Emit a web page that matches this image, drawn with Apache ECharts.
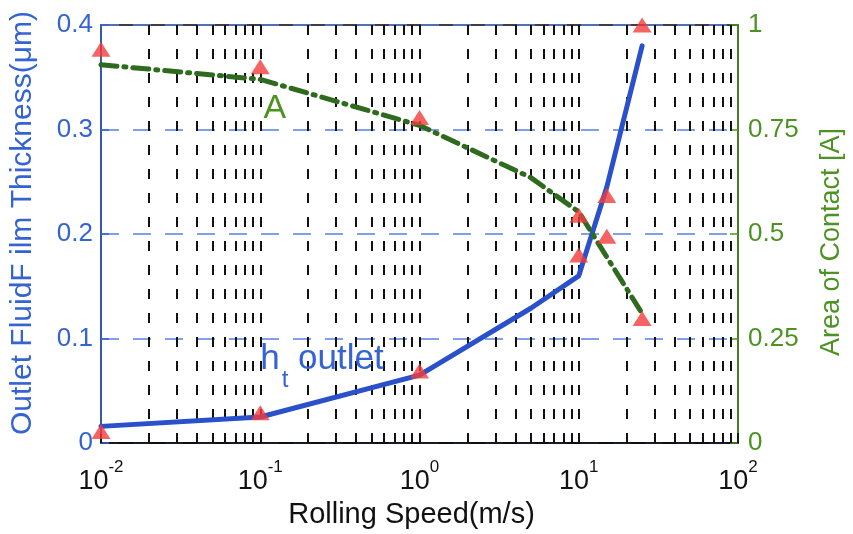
<!DOCTYPE html>
<html><head><meta charset="utf-8">
<script src="https://cdn.jsdelivr.net/npm/echarts@6/dist/echarts.min.js"></script>
<style>html,body{margin:0;padding:0;background:#fff}#chart{width:853px;height:534px}</style>
</head><body><div id="chart"></div>
<script>
// ---- data ----
const speeds   = [0.01, 0.1, 1, 5, 10, 15, 25];            // Rolling speed (m/s)
const hOutlet  = [0.016, 0.025, 0.065, 0.129, 0.16, 0.245, 0.38];  // outlet film thickness (um)
const areaA    = [0.905, 0.87, 0.76, 0.635, 0.553, 0.445, 0.31];   // area of contact A
const expSpeeds = [0.01, 0.1, 1, 10, 15, 25];
const hExp     = [0.011, 0.029, 0.069, 0.18, 0.237, 0.4];
const aExp     = [0.942, 0.9, 0.779, 0.545, 0.495, 0.298];
const xTicks   = [0.01, 0.1, 1, 10, 100];
const hTicks   = [0, 0.1, 0.2, 0.3, 0.4];
const aTicks   = [0, 0.25, 0.5, 0.75, 1];

const FONT = '"Liberation Sans", Arial, Helvetica, sans-serif';
const BLUE = '#3463d4', GREEN = '#4c9324', LINE_BLUE = '#2a50cc', LINE_GREEN = '#2e6b1e', RED = '#f23c3c';

// vertical dashed grid at every log-decade subdivision
const gridX = [];
for (let e = Math.log10(xTicks[0]); e < Math.log10(xTicks[xTicks.length-1]); e++) {
  for (let m = 1; m < 10; m++) {
    const v = +(m * Math.pow(10, e)).toPrecision(3);
    if (v > xTicks[0]) gridX.push(v);
  }
}
const hMin = hTicks[0], hMax = hTicks[hTicks.length-1];

const chart = echarts.init(document.getElementById('chart'), null, {renderer: 'canvas'});
chart.setOption({
  animation: false,
  backgroundColor: '#fff',
  textStyle: {fontFamily: FONT},
  grid: {left: 100, right: 111, top: 25, bottom: 79, show: true, borderColor: '#000', borderWidth: 1.5, backgroundColor: 'transparent'},
  xAxis: {
    type: 'log', logBase: 10, min: xTicks[0], max: xTicks[xTicks.length-1],
    axisLine: {lineStyle: {color: '#000', width: 1.5}},
    axisTick: {inside: true, length: 10, lineStyle: {color: '#000', width: 1.5}},
    splitLine: {show: false},
    axisLabel: {
      margin: 16, showMinLabel: true, showMaxLabel: true,
      formatter: v => '{b|10}{s|' + Math.round(Math.log10(v)) + '}',
      rich: {
        b: {fontSize: 27, color: '#111', fontFamily: FONT, lineHeight: 36, verticalAlign: 'bottom'},
        s: {fontSize: 17, color: '#111', fontFamily: FONT, lineHeight: 17, verticalAlign: 'top'}
      }
    },
    name: 'Rolling Speed(m/s)', nameLocation: 'middle', nameGap: 39,
    nameTextStyle: {fontSize: 29, color: '#111', fontFamily: FONT, padding: [0, 16, 0, 0]}
  },
  yAxis: [{
    type: 'value', position: 'left', min: hMin, max: hMax, interval: hTicks[1] - hTicks[0],
    axisLine: {show: true, lineStyle: {color: BLUE, width: 1.5}},
    axisTick: {show: true, inside: true, length: 8, lineStyle: {color: BLUE, width: 1.5}},
    axisLabel: {color: BLUE, fontSize: 26, margin: 8, fontFamily: FONT, formatter: v => String(+v.toFixed(2))},
    splitLine: {show: true, lineStyle: {color: '#5a80e0', width: 1.5, type: [18, 14]}},
    name: 'Outlet FluidF ilm Thickness(\u03bcm)', nameLocation: 'middle', nameRotate: 90, nameGap: 63,
    nameTextStyle: {fontSize: 30, color: BLUE, fontFamily: FONT, padding: [0, 0, 0, 22]}
  }, {
    type: 'value', position: 'right', min: aTicks[0], max: aTicks[aTicks.length-1], interval: aTicks[1] - aTicks[0],
    axisLine: {show: true, lineStyle: {color: GREEN, width: 1.5}},
    axisTick: {show: true, inside: true, length: 8, lineStyle: {color: GREEN, width: 1.5}},
    axisLabel: {color: GREEN, fontSize: 26, margin: 10, fontFamily: FONT, formatter: v => String(+v.toFixed(2))},
    splitLine: {show: false},
    name: 'Area of Contact [A]', nameLocation: 'middle', nameRotate: 90, nameGap: 80,
    nameTextStyle: {fontSize: 27, color: GREEN, fontFamily: FONT, padding: [0, 16, 0, 0]}
  }],
  series: [{
    name: 'grid', type: 'line', data: [], z: 1, silent: true,
    markLine: {
      silent: true, z: 1, symbol: ['none', 'none'], label: {show: false}, animation: false,
      lineStyle: {color: '#111', width: 2, type: [10, 14]},
      emphasis: {disabled: true},
      data: gridX.map(v => [{coord: [v, hMin]}, {coord: [v, hMax]}])
    }
  }, {
    name: 'h_t outlet', type: 'line', z: 3, symbol: 'none', silent: true,
    data: speeds.map((s, i) => [s, hOutlet[i]]),
    lineStyle: {color: LINE_BLUE, width: 5, cap: 'round', join: 'round'},
    markPoint: {
      symbol: 'circle', symbolSize: 0, silent: true, z: 6,
      data: [{coord: [0.1, 0.097],
        label: {show: true, position: [0, 0], align: 'left', verticalAlign: 'top',
          formatter: '{h|h}{t|t}{o| outlet}',
          rich: {
            h: {fontSize: 35, color: BLUE, fontFamily: FONT, lineHeight: 35, verticalAlign: 'top'},
            t: {fontSize: 24, color: BLUE, fontFamily: FONT, lineHeight: 24, verticalAlign: 'top', padding: [27, 0, 0, 2]},
            o: {fontSize: 35, color: BLUE, fontFamily: FONT, lineHeight: 35, verticalAlign: 'top'}
          }}}]
    }
  }, {
    name: 'A', type: 'line', yAxisIndex: 1, z: 3, symbol: 'none', silent: true,
    data: speeds.map((s, i) => [s, areaA[i]]),
    lineStyle: {color: LINE_GREEN, width: 5, type: [16, 7, 2, 7], cap: 'round', join: 'round'},
    markPoint: {
      symbol: 'circle', symbolSize: 0, silent: true, z: 6,
      data: [{coord: [0.105, 0.84],
        label: {show: true, position: [0, 0], align: 'left', verticalAlign: 'top',
          formatter: 'A', fontSize: 34, color: GREEN, fontFamily: FONT, lineHeight: 34}}]
    }
  }, {
    name: 'h exp', type: 'scatter', z: 4, clip: false, silent: true,
    symbol: 'triangle', symbolSize: [19, 15], itemStyle: {color: RED},
    data: expSpeeds.map((s, i) => [s, hExp[i]])
  }, {
    name: 'A exp', type: 'scatter', yAxisIndex: 1, z: 4, clip: false, silent: true,
    symbol: 'triangle', symbolSize: [19, 15], itemStyle: {color: RED},
    data: expSpeeds.map((s, i) => [s, aExp[i]])
  }]
});
</script>
</body></html>
